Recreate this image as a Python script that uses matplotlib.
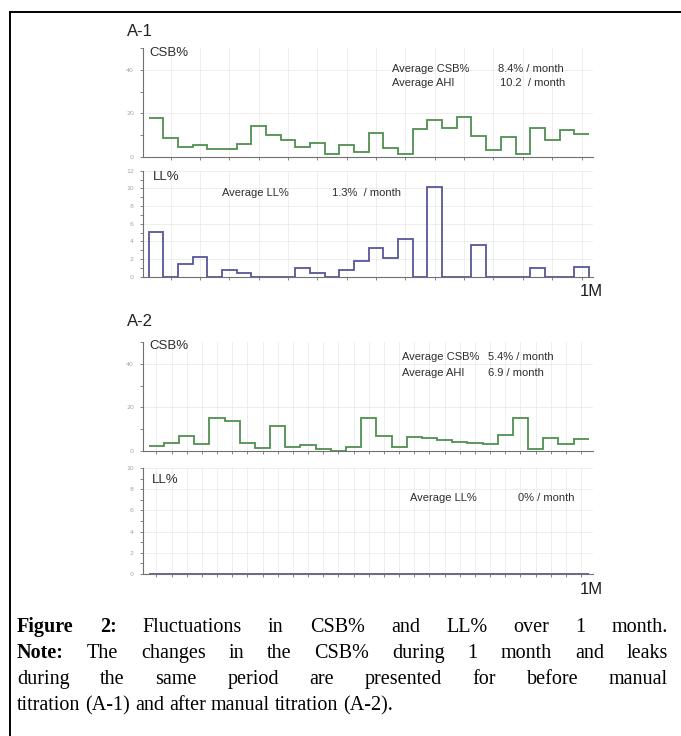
import numpy as np
import matplotlib
matplotlib.use('Agg')
import matplotlib.pyplot as plt
from matplotlib.lines import Line2D
from matplotlib.ticker import MultipleLocator

# daily values
csb_before = [17.7, 8.9, 4.6, 5.7, 3.5, 3.5, 6.0, 14.0, 10.0, 7.7,
              4.6, 6.5, 1.2, 5.4, 2.3, 11.0, 4.0, 1.2, 13.0, 17.0,
              13.5, 18.5, 9.5, 3.0, 9.0, 1.5, 13.4, 7.7, 12.3, 10.5]
ll_before = [5.1, 0.0, 1.4, 2.2, 0.0, 0.75, 0.45, 0.0, 0.0, 0.0,
             0.95, 0.45, 0.0, 0.75, 1.75, 3.2, 2.1, 4.3, 0.0, 10.1,
             0.0, 0.0, 3.6, 0.0, 0.0, 0.0, 0.95, 0.0, 0.0, 1.15]
csb_after = [2.3, 3.8, 6.9, 3.1, 15.0, 13.9, 3.8, 1.2, 11.6, 1.7,
             2.7, 0.8, 0.0, 1.7, 15.0, 7.0, 2.0, 6.3, 5.8, 5.0,
             4.3, 3.5, 3.1, 7.3, 15.0, 0.9, 5.8, 3.2, 5.5]
ll_after = [0.0, 0.0, 0.0, 0.0, 0.0, 0.0, 0.0, 0.0, 0.0, 0.0,
            0.0, 0.0, 0.0, 0.0, 0.0, 0.0, 0.0, 0.0, 0.0, 0.0,
            0.0, 0.0, 0.0, 0.0, 0.0, 0.0, 0.0, 0.0, 0.0]

panel_names = ['A-1', 'A-2']
avg_csb = ['8.4% / month', '5.4% / month']
avg_ahi = ['10.2  / month', '6.9 / month']
avg_ll = ['1.3%  / month', '0% / month']

caption = [
    ('Figure 2:', 'Fluctuations in CSB% and LL% over 1 month.'),
    ('Note:', 'The changes in the CSB% during 1 month and leaks'),
    ('', 'during the same period are presented for before manual'),
    ('', 'titration (A-1) and after manual titration (A-2).'),
]

W, H = 681, 736
GREEN = '#4f904f'
PURPLE = '#56569c'
AXC = '#707070'
TXT = '#2e2e2e'
SANS = 'Liberation Sans'
SERIF = 'Liberation Serif'

fig = plt.figure(figsize=(W / 100, H / 100), dpi=100)


def px_axes(top, bottom, left=143, right=593):
    return fig.add_axes([left / W, 1 - bottom / H, (right - left) / W, (bottom - top) / H])


def style(ax, n, ymax, ymajor, yminor, xstep):
    ax.set_xlim(-0.38, n + 0.28)
    ax.set_ylim(0, ymax)
    for s in ['top', 'right']:
        ax.spines[s].set_visible(False)
    for s in ['left', 'bottom']:
        ax.spines[s].set_color(AXC)
        ax.spines[s].set_linewidth(0.8)
    ax.set_xticks(np.arange(xstep - 0.5, n, xstep))
    ax.xaxis.set_ticklabels([])
    ax.yaxis.set_major_locator(MultipleLocator(ymajor))
    ax.yaxis.set_minor_locator(MultipleLocator(yminor))
    ax.tick_params(which='both', direction='out', color=AXC, length=2.5, width=0.6)
    ax.tick_params(axis='y', labelsize=4.5, labelcolor='#a5a5a5', pad=4)
    ax.grid(True, which='major', color='#ebebeb', lw=0.6)
    ax.set_axisbelow(True)


def ftext(x, y, s, **kw):
    kw.setdefault('fontsize', 8)
    kw.setdefault('color', TXT)
    kw.setdefault('family', SANS)
    kw.setdefault('va', 'center')
    return fig.text(x / W, 1 - y / H, s, **kw)


# A-1 / A-2 blocks
blocks = [
    (csb_before, ll_before, 12, 2, 0),
    (csb_after, ll_after, 10, 1, 294),
]
for i, (csb, ll, llmax, xstep, dy) in enumerate(blocks):
    ax1 = px_axes(48 + dy, 157 + dy)
    ax1.stairs(csb, np.arange(len(csb) + 1), baseline=None, color=GREEN, lw=1.3)
    style(ax1, len(csb), 50, 20, 10, xstep)

    top2 = 170.7 if i == 0 else 468
    ax2 = px_axes(top2, 276.7 if i == 0 else 574)
    ax2.stairs(ll, np.arange(len(ll) + 1), baseline=0, color=PURPLE, lw=1.3)
    style(ax2, len(ll), llmax, 2, 1, xstep)

    ftext(127, 31 + dy - (3 if i else 0), panel_names[i], fontsize=12, color='#222222')
    ftext(149, 52.5 + dy - (0.5 if i else 0), 'CSB%', fontsize=9.5)
    ftext(153 if i == 0 else 152, 177 if i == 0 else 480, 'LL%', fontsize=9.5)

    lx, vx = (392, 498) if i == 0 else (402, 488)
    ftext(lx, 68.5 + dy - (5 if i else 0), 'Average CSB%')
    ftext(vx, 68.5 + dy - (5 if i else 0), avg_csb[i])
    ftext(lx, 83.5 + dy - (5 if i else 0), 'Average AHI')
    ftext(vx + (2 if i == 0 else 0), 83.5 + dy - (5 if i else 0), avg_ahi[i])

    if i == 0:
        ftext(222, 193, 'Average LL%')
        ftext(332, 193, avg_ll[i])
    else:
        ftext(410, 498, 'Average LL%')
        ftext(518, 498, avg_ll[i])

    ftext(603, 292 if i == 0 else 590, '1M', fontsize=12, ha='right', color='#1e1e1e')

# frame lines
fig.add_artist(Line2D([10 / W, 1], [1 - 12 / H] * 2, transform=fig.transFigure,
                      color='black', lw=1.4))
fig.add_artist(Line2D([10 / W] * 2, [0, 1 - 12 / H], transform=fig.transFigure,
                      color='black', lw=1.4))

# caption, justified like the journal layout
fig.canvas.draw()
rend = fig.canvas.get_renderer()
cap_size = 14.5
left, right = 17, 668
baselines = [632, 658, 684, 710]


def width_of(word, bold):
    t = fig.text(0, 0, word, fontsize=cap_size, family=SERIF,
                 weight='bold' if bold else 'normal')
    w = t.get_window_extent(renderer=rend).width
    t.remove()
    return w


for k, (bold, rest) in enumerate(caption):
    words = [(w, True) for w in bold.split()] + [(w, False) for w in rest.split()]
    widths = [width_of(w, b) for w, b in words]
    if k < len(caption) - 1:
        gap = (right - left - sum(widths)) / (len(words) - 1)
    else:
        gap = width_of('a a', False) - width_of('aa', False)
    x = left
    for (w, b), wd in zip(words, widths):
        fig.text(x / W, 1 - baselines[k] / H, w, fontsize=cap_size, family=SERIF,
                 weight='bold' if b else 'normal', va='baseline', color='black')
        x += wd + gap

fig.savefig('out.png', dpi=100)
